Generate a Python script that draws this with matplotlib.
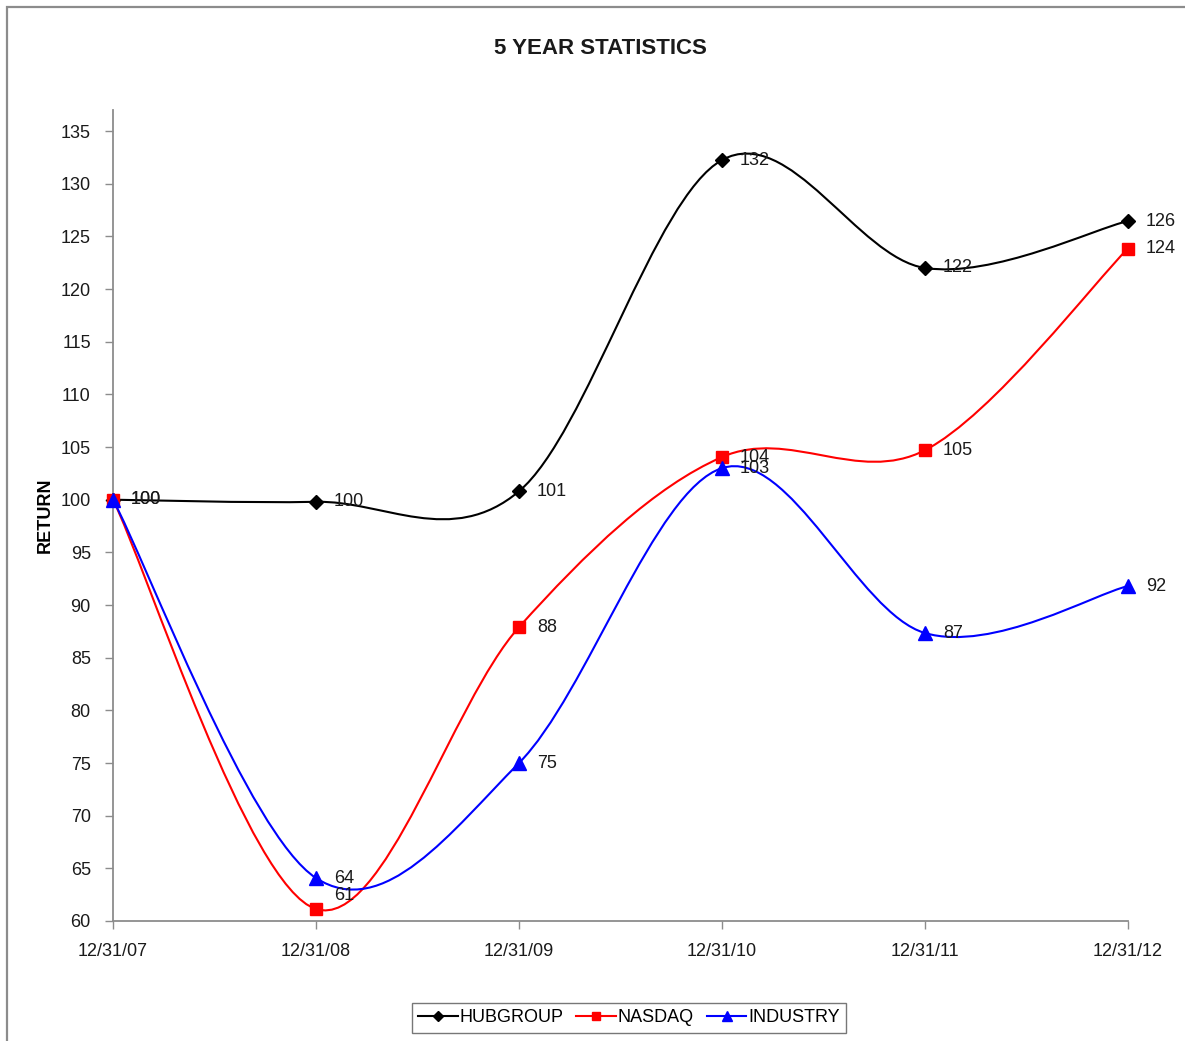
import matplotlib
matplotlib.use("Agg")
import matplotlib.pyplot as plt
from matplotlib.path import Path
from matplotlib.patches import PathPatch, Rectangle
import numpy as np

plt.rcParams['font.family'] = ['Liberation Sans', 'DejaVu Sans']

dates = ["12/31/07", "12/31/08", "12/31/09", "12/31/10", "12/31/11", "12/31/12"]
hubgroup = [100.0, 99.8, 100.8, 132.25, 122.0, 126.46]
nasdaq = [100.0, 61.14, 87.9, 104.05, 104.7, 123.85]
industry = [100.0, 64.08, 75.0, 103.0, 87.34, 91.8]
hub_labels = ["100", "100", "101", "132", "122", "126"]
nas_labels = ["100", "61", "88", "104", "105", "124"]
ind_labels = ["", "64", "75", "103", "87", "92"]
yticks = list(range(60, 136, 5))

W, H = 1185, 1041
fig = plt.figure(figsize=(W / 100, H / 100), dpi=100)
fig.patch.set_facecolor("white")
fig.patches.append(Rectangle((7 / W, -0.1), 1.2, 1 - 7 / H + 0.1, transform=fig.transFigure,
                             fill=False, edgecolor="#8c8c8c", linewidth=1.6, zorder=0))

ax = fig.add_axes([113 / W, 1 - 921 / H, (1128 - 113) / W, (921 - 110) / H])
x = np.arange(len(dates))


def smooth_path(xs, ys):
    xs = np.asarray(xs, float)
    ys = np.asarray(ys, float)
    n = len(xs)
    verts = [(xs[0], ys[0])]
    codes = [Path.MOVETO]
    for i in range(n - 1):
        p0 = np.array([xs[max(i - 1, 0)], ys[max(i - 1, 0)]])
        p1 = np.array([xs[i], ys[i]])
        p2 = np.array([xs[i + 1], ys[i + 1]])
        p3 = np.array([xs[min(i + 2, n - 1)], ys[min(i + 2, n - 1)]])
        c1 = p1 + (p2 - p0) / 6.0
        c2 = p2 - (p3 - p1) / 6.0
        verts += [tuple(c1), tuple(c2), tuple(p2)]
        codes += [Path.CURVE4] * 3
    return Path(verts, codes)


series = [
    ("HUBGROUP", hubgroup, hub_labels, "black", "D", 7),
    ("NASDAQ", nasdaq, nas_labels, "#ff0000", "s", 9),
    ("INDUSTRY", industry, ind_labels, "#0000ff", "^", 10),
]

handles = []
for name, vals, labs, col, mk, ms in series:
    ax.add_patch(PathPatch(smooth_path(x, vals), facecolor="none", edgecolor=col,
                           linewidth=1.5, zorder=3))
    ax.plot(x, vals, linestyle="none", marker=mk, color=col, markersize=ms, zorder=4,
            clip_on=False)
    h, = ax.plot([], [], color=col, marker=mk, markersize=ms * 0.7, linewidth=1.5, label=name)
    handles.append(h)
    for xi, v, lab in zip(x, vals, labs):
        if not lab:
            continue
        dy = 0
        if name == "NASDAQ" and lab == "61":
            dy = 13
        ax.annotate(lab, (xi, v), xytext=(18, dy), textcoords="offset pixels",
                    ha="left", va="center", fontsize=13, color="#1a1a1a", zorder=5)

ax.set_xlim(0, len(dates) - 1)
ax.set_ylim(60, 137)
ax.set_xticks(x)
ax.set_xticklabels(dates, fontsize=13, color="#1a1a1a")
ax.set_yticks(yticks)
ax.set_yticklabels([str(t) for t in yticks], fontsize=13, color="#1a1a1a")
for s in ["top", "right"]:
    ax.spines[s].set_visible(False)
for s in ["left", "bottom"]:
    ax.spines[s].set_color("#8c8c8c")
    ax.spines[s].set_linewidth(1.3)
ax.tick_params(axis="both", direction="out", length=6, width=1, color="#8c8c8c")
ax.tick_params(axis="y", pad=10)
ax.tick_params(axis="x", pad=10)
ax.set_ylabel("RETURN", fontsize=13, fontweight="bold", labelpad=5)

fig.text(600 / W, 1 - 49 / H, "5 YEAR STATISTICS", ha="center", va="center",
         fontsize=16, fontweight="bold", color="#1a1a1a")

leg = fig.legend(handles=handles, loc="center", bbox_to_anchor=(629 / W, 1 - 1018 / H),
                 ncol=3, fontsize=13, frameon=True, fancybox=False, edgecolor="#555555",
                 handlelength=2.2, handletextpad=0.1, columnspacing=0.7,
                 borderpad=0.35)
leg.get_frame().set_linewidth(1.0)

fig.savefig("out.png", dpi=100, facecolor="white")
